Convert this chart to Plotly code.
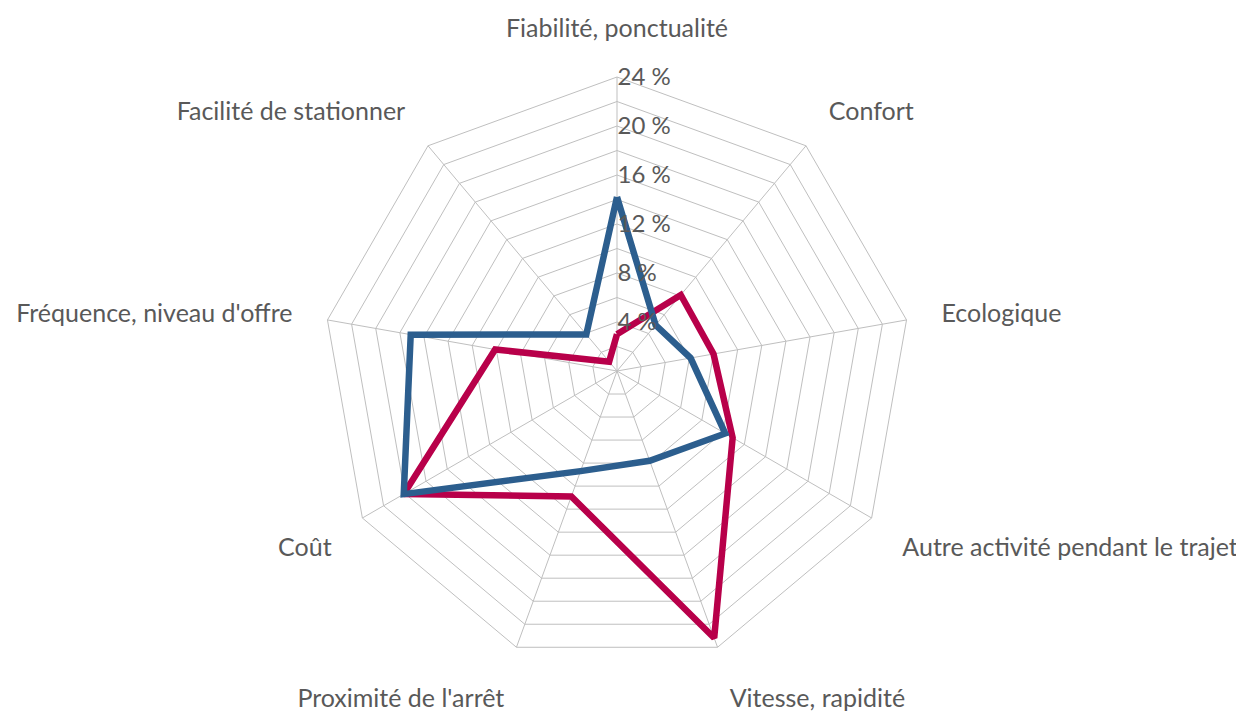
import plotly.graph_objects as go

categories = [
    "Fiabilité, ponctualité",
    "Confort",
    "Ecologique",
    "Autre activité pendant le trajet",
    "Vitesse, rapidité",
    "Proximité de l'arrêt",
    "Coût",
    "Fréquence, niveau d'offre",
    "Facilité de stationner",
]
serie_bleue = [14.2, 4.9, 6.1, 10.2, 7.8, 8.7, 20.1, 17.1, 3.9]
serie_rouge = [3.0, 8.1, 8.0, 10.9, 23.2, 10.9, 20.1, 10.1, 1.0]

radial_ticks = list(range(0, 25, 2))
radial_labels = [f"{v} %" if v % 4 == 0 and v > 0 else "" for v in radial_ticks]

grey = "#BFBFBF"
text_grey = "#595959"
font_family = "Lato, 'Open Sans', sans-serif"

fig = go.Figure()

# close the polygons by repeating the first point
fig.add_trace(go.Scatterpolar(
    r=serie_rouge + serie_rouge[:1],
    theta=categories + categories[:1],
    mode='lines',
    name='Série 2',
    line=dict(color='#B8004A', width=6.5),
))
fig.add_trace(go.Scatterpolar(
    r=serie_bleue + serie_bleue[:1],
    theta=categories + categories[:1],
    mode='lines',
    name='Série 1',
    line=dict(color='#2C5E8E', width=6.5),
))

fig.update_layout(
    width=1244,
    height=712,
    showlegend=False,
    paper_bgcolor='white',
    plot_bgcolor='white',
    margin=dict(l=315, r=341, t=69, b=55),
    font=dict(family=font_family, color=text_grey, size=25),
    polar=dict(
        bgcolor='white',
        gridshape='linear',
        radialaxis=dict(
            range=[0, 24],
            tickvals=radial_ticks,
            ticktext=radial_labels,
            angle=90,
            tickangle=90,
            showline=False,
            ticks='',
            gridcolor=grey,
            gridwidth=1,
            tickfont=dict(size=24, color=text_grey),
        ),
        angularaxis=dict(
            rotation=90,
            direction='clockwise',
            showline=True,
            linecolor=grey,
            linewidth=1,
            gridcolor=grey,
            gridwidth=1,
            ticks='outside',
            ticklen=30,
            tickcolor='rgba(0,0,0,0)',
            tickfont=dict(size=25, color=text_grey),
        ),
    ),
)

fig.write_html("out.html")
